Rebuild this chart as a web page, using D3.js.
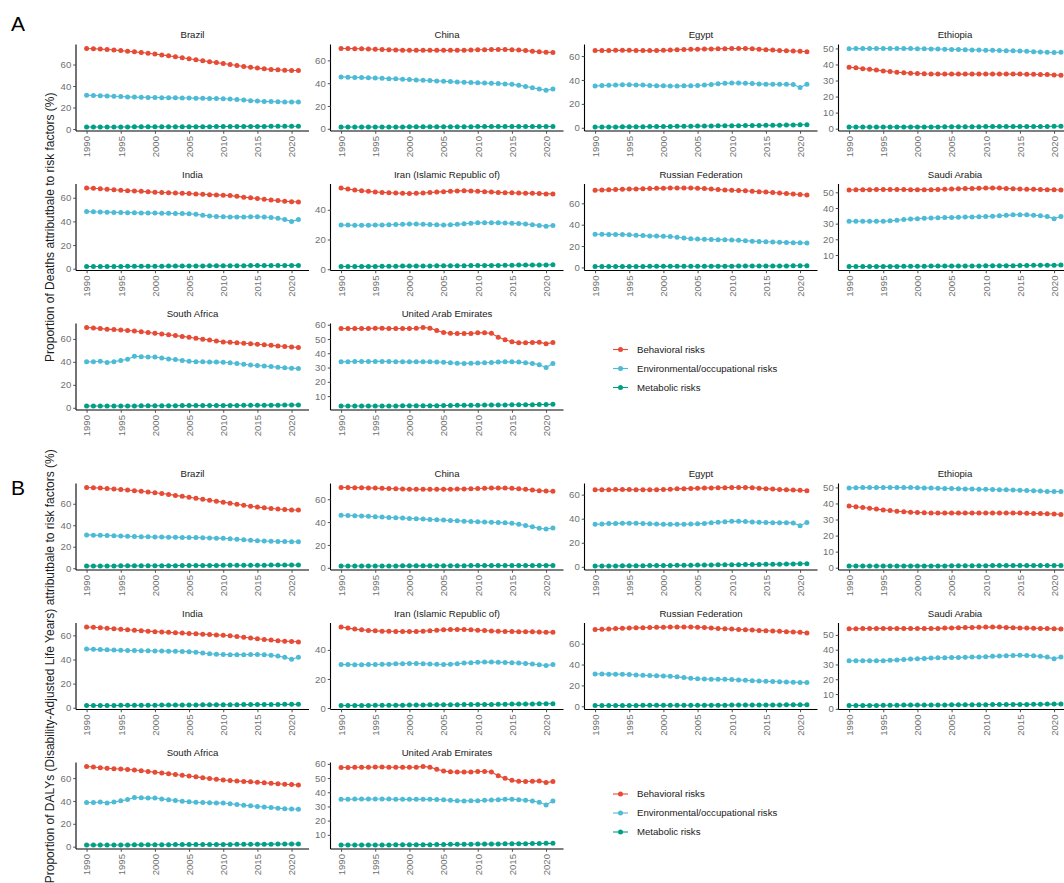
<!DOCTYPE html>
<html>
<head>
<meta charset="utf-8">
<script src="https://cdn.jsdelivr.net/npm/d3@7"></script>
<style>
  html, body { margin: 0; padding: 0; background: #fff; }
  svg { display: block; font-family: "Liberation Sans", Arial, sans-serif; }
</style>
</head>
<body>
<svg id="chart" width="1064" height="883"></svg>
<script>
// ---- data ---------------------------------------------------------------
const years = [1990,1991,1992,1993,1994,1995,1996,1997,1998,1999,2000,2001,2002,2003,2004,2005,
               2006,2007,2008,2009,2010,2011,2012,2013,2014,2015,2016,2017,2018,2019,2020,2021];
const yearTicks = [1990, 1995, 2000, 2005, 2010, 2015, 2020];

const countries = ["Brazil", "China", "Egypt", "Ethiopia", "India", "Iran (Islamic Republic of)",
                   "Russian Federation", "Saudi Arabia", "South Africa", "United Arab Emirates"];

// y-axis break spacing for each country panel
const yTickSteps = [20, 20, 20, 10, 20, 20, 20, 10, 20, 10];

const riskNames = ["Behavioral risks", "Environmental/occupational risks", "Metabolic risks"];
const riskColors = ["#E64B35", "#4DBBD5", "#00A087"];

// Deaths (%), one row per country in the order of `countries`
const deathsBehavioral = [
  [75.0,74.7,74.4,74.0,73.5,73.0,72.4,71.8,71.2,70.5,69.8,69.0,68.1,67.2,66.3,65.4,64.5,63.6,62.7,61.8,60.9,60.0,59.1,58.2,57.4,56.7,56.0,55.5,55.1,54.7,54.4,54.4],
  [70.5,70.4,70.3,70.2,70.0,69.8,69.6,69.4,69.2,69.0,68.9,68.8,68.8,68.8,68.8,68.8,68.8,68.9,69.0,69.1,69.3,69.4,69.5,69.6,69.6,69.4,69.1,68.6,68.1,67.5,67.2,67.0],
  [64.6,64.7,64.7,64.8,64.8,64.8,64.7,64.6,64.6,64.6,64.8,65.0,65.3,65.5,65.7,65.8,65.9,66.0,66.1,66.2,66.3,66.4,66.3,66.1,65.8,65.4,65.0,64.7,64.4,64.2,64.0,63.6],
  [38.3,37.9,37.4,37.0,36.5,36.0,35.6,35.2,34.9,34.6,34.4,34.2,34.1,34.0,34.0,34.0,34.0,34.0,34.0,34.1,34.1,34.1,34.1,34.1,34.0,34.0,33.9,33.9,33.8,33.7,33.5,33.3],
  [68.3,68.0,67.6,67.2,66.8,66.4,66.0,65.7,65.4,65.0,64.7,64.4,64.2,64.0,63.8,63.5,63.2,62.9,62.6,62.4,62.2,61.8,61.2,60.5,59.9,59.3,58.7,58.1,57.6,57.1,56.7,56.4],
  [54.7,53.9,53.3,52.8,52.4,52.0,51.7,51.5,51.3,51.1,51.0,51.1,51.3,51.6,51.9,52.2,52.5,52.7,52.8,52.7,52.5,52.2,51.9,51.7,51.5,51.4,51.3,51.2,51.1,51.0,50.7,50.7],
  [72.3,72.4,72.6,72.9,73.2,73.4,73.5,73.6,73.8,74.0,74.2,74.3,74.4,74.4,74.3,74.2,73.8,73.3,72.9,72.5,72.2,72.0,71.7,71.3,70.9,70.5,70.1,69.6,69.1,68.7,68.3,67.8],
  [51.5,51.6,51.7,51.7,51.8,51.8,51.8,51.8,51.8,51.7,51.7,51.7,51.7,51.8,52.0,52.1,52.3,52.4,52.5,52.6,52.7,52.8,52.7,52.5,52.3,52.1,52.0,51.9,51.8,51.7,51.6,51.5],
  [70.0,69.6,69.0,68.5,68.1,67.7,67.4,66.9,66.3,65.6,64.9,64.3,63.6,62.9,62.2,61.4,60.6,59.8,59.0,58.2,57.4,57.0,56.6,56.2,55.8,55.4,54.9,54.4,53.9,53.4,53.0,52.6],
  [57.4,57.3,57.4,57.4,57.4,57.6,57.6,57.4,57.4,57.4,57.4,57.5,58.1,57.6,56.0,54.6,54.0,53.9,53.8,53.9,54.3,54.3,54.0,51.2,49.4,48.0,47.3,47.4,47.6,47.8,46.6,47.5]
];
const deathsEnvironmental = [
  [31.5,31.2,31.0,30.8,30.5,30.2,29.9,29.7,29.5,29.4,29.3,29.2,29.1,29.0,28.9,28.8,28.7,28.6,28.5,28.4,28.2,27.9,27.5,27.0,26.4,26.0,25.7,25.5,25.3,25.2,25.1,25.1],
  [45.5,45.3,45.1,44.9,44.7,44.5,44.3,44.0,43.8,43.5,43.2,42.9,42.6,42.3,42.0,41.7,41.4,41.1,40.8,40.5,40.3,40.1,39.9,39.7,39.4,39.0,38.3,37.2,36.0,34.8,33.8,34.8],
  [35.0,35.3,35.6,35.8,36.0,36.0,35.9,35.7,35.4,35.2,35.1,35.0,35.0,35.1,35.2,35.4,35.8,36.3,36.8,37.2,37.5,37.5,37.3,37.0,36.7,36.5,36.4,36.4,36.4,36.2,33.8,36.5],
  [49.8,49.9,49.9,49.9,50.0,50.0,50.0,50.0,49.9,49.9,49.8,49.8,49.7,49.6,49.5,49.4,49.3,49.2,49.1,49.0,48.9,48.8,48.7,48.6,48.5,48.4,48.2,48.0,47.8,47.6,47.5,47.6],
  [48.3,48.1,47.9,47.8,47.6,47.5,47.4,47.3,47.2,47.1,47.0,46.9,46.8,46.7,46.6,46.4,46.0,45.3,44.6,44.2,43.9,43.8,43.8,43.8,43.9,43.9,43.7,43.3,42.6,41.5,40.0,41.5],
  [29.8,29.7,29.6,29.6,29.6,29.7,29.8,29.9,30.1,30.3,30.4,30.4,30.3,30.1,29.9,29.8,29.9,30.2,30.6,30.9,31.2,31.3,31.3,31.2,31.1,30.9,30.7,30.4,30.0,29.5,28.9,29.5],
  [31.1,31.0,30.9,30.9,30.8,30.5,30.1,29.8,29.5,29.3,29.2,28.9,28.3,27.6,26.9,26.5,26.3,26.1,26.0,25.9,25.7,25.4,25.0,24.6,24.3,24.0,23.8,23.6,23.4,23.2,23.0,22.8],
  [31.5,31.5,31.5,31.5,31.5,31.6,31.8,32.2,32.6,33.0,33.2,33.4,33.6,33.8,33.9,34.0,34.1,34.2,34.3,34.4,34.6,34.8,35.0,35.3,35.6,35.7,35.6,35.4,35.0,34.5,33.2,34.6],
  [40.0,40.1,40.5,39.4,40.2,41.2,42.3,44.9,44.5,44.2,44.3,43.4,42.6,42.0,41.3,40.6,40.2,40.0,39.9,39.8,39.7,39.2,38.6,37.9,37.3,36.9,36.4,35.9,35.3,34.8,34.5,34.3],
  [34.0,34.1,34.2,34.2,34.2,34.3,34.3,34.2,34.1,34.0,34.0,34.0,34.0,34.0,33.9,33.7,33.3,33.0,32.9,33.0,33.1,33.3,33.5,33.8,34.0,34.0,33.8,33.4,32.9,32.0,30.1,32.8]
];
const deathsMetabolic = [
  [1.8,1.8,1.8,1.9,1.9,1.9,1.9,2.0,2.0,2.0,2.0,2.1,2.1,2.1,2.1,2.2,2.2,2.2,2.2,2.3,2.3,2.3,2.3,2.4,2.4,2.4,2.4,2.5,2.5,2.5,2.6,2.6],
  [1.5,1.5,1.5,1.5,1.5,1.6,1.6,1.6,1.6,1.6,1.7,1.7,1.7,1.7,1.7,1.8,1.8,1.8,1.8,1.8,1.9,1.9,1.9,1.9,1.9,2.0,2.0,2.0,2.0,2.0,2.0,2.0],
  [0.6,0.6,0.7,0.7,0.8,0.8,0.9,0.9,1.0,1.0,1.1,1.1,1.2,1.3,1.3,1.4,1.5,1.5,1.6,1.7,1.7,1.8,1.9,1.9,2.0,2.1,2.1,2.2,2.3,2.4,2.5,2.6],
  [1.0,1.0,1.0,1.0,1.0,1.0,1.0,1.1,1.1,1.1,1.1,1.1,1.1,1.1,1.2,1.2,1.2,1.2,1.2,1.2,1.3,1.3,1.3,1.3,1.3,1.3,1.4,1.4,1.4,1.4,1.5,1.5],
  [1.8,1.8,1.8,1.9,1.9,1.9,2.0,2.0,2.0,2.1,2.1,2.1,2.2,2.2,2.2,2.3,2.3,2.3,2.4,2.4,2.4,2.5,2.5,2.5,2.6,2.6,2.6,2.7,2.7,2.7,2.8,2.8],
  [1.8,1.8,1.8,1.9,1.9,1.9,2.0,2.0,2.0,2.1,2.1,2.2,2.2,2.2,2.3,2.3,2.4,2.4,2.4,2.5,2.5,2.6,2.6,2.6,2.7,2.7,2.8,2.8,2.8,2.9,2.9,3.0],
  [0.8,0.8,0.8,0.8,0.9,0.9,0.9,0.9,1.0,1.0,1.0,1.0,1.0,1.1,1.1,1.1,1.1,1.2,1.2,1.2,1.2,1.3,1.3,1.3,1.3,1.4,1.4,1.4,1.4,1.5,1.5,1.5],
  [2.6,2.6,2.6,2.6,2.7,2.7,2.7,2.7,2.8,2.8,2.8,2.8,2.9,2.9,2.9,2.9,3.0,3.0,3.0,3.0,3.1,3.1,3.1,3.2,3.2,3.3,3.3,3.4,3.4,3.5,3.5,3.6],
  [1.5,1.5,1.5,1.5,1.6,1.6,1.6,1.6,1.7,1.7,1.7,1.8,1.8,1.8,1.9,1.9,1.9,2.0,2.0,2.0,2.1,2.1,2.1,2.2,2.2,2.2,2.3,2.3,2.3,2.4,2.4,2.5],
  [3.0,3.0,3.0,3.0,3.0,3.1,3.1,3.1,3.1,3.2,3.2,3.2,3.2,3.3,3.3,3.4,3.4,3.5,3.5,3.6,3.6,3.7,3.7,3.8,3.8,3.9,3.9,4.0,4.0,4.1,4.1,4.2]
];

// DALYs (%), one row per country in the order of `countries`
const dalysBehavioral = [
  [75.2,74.9,74.6,74.2,73.8,73.3,72.8,72.2,71.6,71.0,70.3,69.5,68.7,67.8,66.9,66.0,65.1,64.2,63.3,62.4,61.5,60.5,59.5,58.6,57.7,56.9,56.2,55.6,55.1,54.7,54.3,54.1],
  [70.3,70.2,70.1,70.0,69.9,69.7,69.5,69.3,69.1,68.9,68.8,68.7,68.7,68.7,68.7,68.8,68.8,68.9,69.0,69.2,69.4,69.6,69.7,69.8,69.7,69.5,69.1,68.6,68.1,67.5,67.1,66.9],
  [64.0,64.1,64.1,64.2,64.2,64.2,64.1,64.1,64.1,64.1,64.3,64.5,64.8,65.0,65.2,65.4,65.5,65.6,65.7,65.8,65.9,66.0,65.9,65.7,65.4,65.0,64.6,64.3,64.0,63.8,63.6,63.3],
  [38.4,38.0,37.5,37.0,36.5,36.0,35.6,35.2,34.9,34.6,34.4,34.2,34.1,34.0,34.0,34.0,34.0,34.0,34.0,34.1,34.1,34.1,34.1,34.1,34.0,34.0,33.9,33.8,33.7,33.6,33.4,33.2],
  [67.0,66.7,66.3,65.9,65.5,65.1,64.7,64.3,63.9,63.5,63.1,62.8,62.5,62.2,61.9,61.6,61.3,61.0,60.7,60.4,60.1,59.7,59.1,58.4,57.8,57.2,56.6,56.1,55.6,55.2,54.9,54.6],
  [55.8,55.0,54.3,53.8,53.4,53.1,52.9,52.8,52.7,52.6,52.6,52.7,52.9,53.2,53.5,53.8,54.0,54.1,54.1,53.9,53.6,53.3,53.0,52.8,52.7,52.6,52.5,52.5,52.4,52.3,52.1,52.2],
  [73.5,73.7,74.0,74.4,74.8,75.0,75.1,75.2,75.4,75.6,75.8,75.9,76.0,76.0,75.9,75.8,75.4,74.9,74.5,74.2,73.9,73.6,73.3,73.0,72.7,72.4,72.1,71.8,71.5,71.2,70.9,70.3],
  [54.1,54.2,54.3,54.3,54.4,54.4,54.4,54.4,54.3,54.3,54.3,54.3,54.3,54.4,54.6,54.7,54.9,55.0,55.1,55.2,55.3,55.4,55.3,55.1,54.9,54.7,54.6,54.5,54.4,54.3,54.1,54.0],
  [70.2,69.7,69.1,68.6,68.2,67.9,67.6,67.1,66.5,65.8,65.2,64.5,63.9,63.2,62.5,61.8,61.1,60.4,59.7,59.0,58.3,57.9,57.5,57.1,56.7,56.3,55.9,55.4,55.0,54.6,54.3,54.0],
  [57.5,57.5,57.6,57.6,57.6,57.8,57.8,57.6,57.6,57.6,57.6,57.7,58.2,57.7,56.2,55.0,54.4,54.3,54.2,54.3,54.6,54.6,54.3,51.6,49.8,48.4,47.7,47.6,47.8,48.0,46.8,47.6]
];
const dalysEnvironmental = [
  [31.0,30.8,30.6,30.4,30.2,29.9,29.7,29.5,29.3,29.2,29.1,29.0,28.9,28.8,28.7,28.6,28.5,28.4,28.2,28.0,27.8,27.4,27.0,26.5,26.0,25.6,25.3,25.1,24.9,24.8,24.7,24.6],
  [46.0,45.8,45.6,45.3,45.0,44.7,44.4,44.1,43.8,43.5,43.2,42.9,42.6,42.3,42.0,41.7,41.4,41.1,40.8,40.5,40.2,40.0,39.8,39.6,39.3,38.9,38.1,37.0,35.8,34.6,33.9,34.8],
  [35.3,35.6,35.9,36.1,36.3,36.3,36.2,36.0,35.7,35.5,35.4,35.3,35.3,35.4,35.5,35.7,36.1,36.6,37.1,37.5,37.8,37.8,37.6,37.3,37.0,36.8,36.7,36.7,36.7,36.5,34.2,36.8],
  [49.7,49.8,49.9,49.9,50.0,50.0,50.0,50.0,49.9,49.9,49.8,49.7,49.6,49.5,49.4,49.3,49.2,49.1,49.0,48.9,48.8,48.7,48.6,48.5,48.4,48.3,48.1,47.9,47.7,47.5,47.4,47.5],
  [48.6,48.4,48.2,48.0,47.8,47.6,47.5,47.4,47.3,47.2,47.1,47.0,46.9,46.8,46.7,46.5,46.1,45.4,44.8,44.4,44.1,44.0,44.0,44.0,44.1,44.1,43.9,43.5,42.8,41.8,40.2,41.8],
  [30.0,29.9,29.8,29.8,29.9,30.0,30.1,30.2,30.4,30.5,30.6,30.6,30.5,30.3,30.1,30.0,30.2,30.5,30.9,31.2,31.5,31.6,31.6,31.5,31.4,31.2,31.0,30.7,30.3,29.8,29.2,29.9],
  [31.0,30.9,30.8,30.8,30.7,30.4,30.0,29.7,29.4,29.2,29.1,28.8,28.2,27.5,26.8,26.4,26.2,26.0,25.9,25.8,25.6,25.3,24.9,24.5,24.2,23.9,23.7,23.5,23.3,23.1,22.9,22.7],
  [32.5,32.5,32.5,32.5,32.5,32.6,32.8,33.1,33.4,33.7,33.9,34.1,34.3,34.5,34.6,34.7,34.8,34.9,35.0,35.1,35.3,35.5,35.7,35.9,36.1,36.2,36.1,35.9,35.5,35.0,33.8,35.0],
  [38.6,38.7,39.1,38.2,39.0,40.1,41.3,43.0,42.7,42.5,42.6,41.8,41.1,40.5,39.8,39.2,38.8,38.6,38.4,38.3,38.2,37.6,37.0,36.3,35.7,35.2,34.7,34.2,33.7,33.2,32.9,32.7],
  [35.0,35.1,35.2,35.2,35.2,35.3,35.3,35.2,35.1,35.0,35.0,35.0,35.0,35.0,34.9,34.7,34.3,34.0,33.9,34.0,34.1,34.3,34.5,34.8,35.0,35.0,34.8,34.4,33.9,33.0,31.1,33.8]
];
const dalysMetabolic = [
  [2.0,2.0,2.1,2.1,2.1,2.2,2.2,2.2,2.3,2.3,2.3,2.4,2.4,2.4,2.5,2.5,2.5,2.6,2.6,2.6,2.7,2.7,2.7,2.8,2.8,2.8,2.8,2.9,2.9,2.9,2.9,3.0],
  [1.5,1.5,1.5,1.5,1.6,1.6,1.6,1.6,1.6,1.7,1.7,1.7,1.7,1.7,1.8,1.8,1.8,1.8,1.8,1.9,1.9,1.9,1.9,1.9,2.0,2.0,2.0,2.0,2.0,2.0,2.1,2.1],
  [0.6,0.6,0.7,0.7,0.8,0.8,0.9,0.9,1.0,1.0,1.1,1.1,1.2,1.3,1.3,1.4,1.5,1.5,1.6,1.7,1.7,1.8,1.9,1.9,2.0,2.1,2.1,2.2,2.3,2.4,2.5,2.6],
  [1.0,1.0,1.0,1.0,1.0,1.0,1.0,1.0,1.1,1.1,1.1,1.1,1.1,1.1,1.1,1.2,1.2,1.2,1.2,1.2,1.2,1.3,1.3,1.3,1.3,1.3,1.3,1.3,1.4,1.4,1.4,1.4],
  [1.8,1.8,1.9,1.9,1.9,2.0,2.0,2.0,2.1,2.1,2.1,2.2,2.2,2.2,2.3,2.3,2.3,2.4,2.4,2.4,2.5,2.5,2.5,2.6,2.6,2.6,2.7,2.7,2.7,2.8,2.8,2.9],
  [1.7,1.7,1.8,1.8,1.8,1.9,1.9,1.9,2.0,2.0,2.1,2.1,2.1,2.2,2.2,2.3,2.3,2.3,2.4,2.4,2.5,2.5,2.5,2.6,2.6,2.7,2.7,2.8,2.8,2.9,2.9,3.0],
  [0.7,0.7,0.7,0.8,0.8,0.8,0.8,0.9,0.9,0.9,0.9,1.0,1.0,1.0,1.0,1.0,1.1,1.1,1.1,1.1,1.2,1.2,1.2,1.2,1.3,1.3,1.3,1.3,1.4,1.4,1.4,1.4],
  [2.2,2.2,2.3,2.3,2.3,2.4,2.4,2.4,2.5,2.5,2.5,2.5,2.6,2.6,2.6,2.7,2.7,2.7,2.8,2.8,2.8,2.9,2.9,2.9,3.0,3.0,3.0,3.1,3.1,3.2,3.2,3.3],
  [1.4,1.4,1.4,1.5,1.5,1.5,1.5,1.6,1.6,1.6,1.7,1.7,1.7,1.8,1.8,1.8,1.9,1.9,1.9,2.0,2.0,2.0,2.1,2.1,2.1,2.2,2.2,2.2,2.3,2.3,2.3,2.4],
  [2.8,2.8,2.8,2.8,2.9,2.9,2.9,2.9,3.0,3.0,3.0,3.1,3.1,3.1,3.2,3.2,3.3,3.3,3.4,3.4,3.5,3.5,3.6,3.6,3.7,3.7,3.8,3.8,3.9,3.9,4.0,4.0]
];

// ---- layout -------------------------------------------------------------
const svg = d3.select("#chart");
const colLeft = [76, 330.5, 584.5, 838.5];
const panelW = 233, panelH = 86.5;
const rowTop = [44.5, 184, 323.5];
const sectionOffset = 439;

const textFont = 9.6;
const tickColor = "#4d4d4d";
const labelColor = "#707070";

const sections = [
  { tag: "A", tagY: 31, offset: 0,
    series: [deathsBehavioral, deathsEnvironmental, deathsMetabolic],
    title: "Proportion of Deaths attributbale to risk factors (%)",
    legendY: [349.5, 368.5, 387.5] },
  { tag: "B", tagY: 495, offset: sectionOffset,
    series: [dalysBehavioral, dalysEnvironmental, dalysMetabolic],
    title: "Proportion of DALYs (Disability-Adjusted Life Years) attributbale to risk factors (%)",
    legendY: [794, 813, 832] }
];

sections.forEach(sec => {
  // section tag
  svg.append("text")
    .attr("x", 11).attr("y", sec.tagY)
    .attr("font-size", 21).attr("fill", "#000")
    .text(sec.tag);

  // shared y-axis title
  const top = rowTop[0] + sec.offset;
  const bottom = rowTop[2] + panelH + sec.offset;
  svg.append("text")
    .attr("transform", `translate(54,${(top + bottom) / 2}) rotate(-90)`)
    .attr("text-anchor", "middle")
    .attr("font-size", 12).attr("fill", "#1a1a1a")
    .text(sec.title);

  countries.forEach((country, ci) => {
    const row = Math.floor(ci / 4), col = ci % 4;
    const left = colLeft[col];
    const pTop = rowTop[row] + sec.offset;
    const pBottom = pTop + panelH;

    const vals = sec.series.map(s => s[ci]);
    const all = vals.flat();
    const lo = d3.min(all), hi = d3.max(all);
    const padY = (hi - lo) * 0.05;
    const y = d3.scaleLinear().domain([lo - padY, hi + padY]).range([pBottom, pTop]);
    const padX = (years[years.length - 1] - years[0]) * 0.05;
    const x = d3.scaleLinear().domain([years[0] - padX, years[years.length - 1] + padX])
      .range([left, left + panelW]);

    const g = svg.append("g");

    // facet strip label
    g.append("text")
      .attr("x", left + panelW / 2).attr("y", pTop - 6.5)
      .attr("text-anchor", "middle")
      .attr("font-size", textFont).attr("fill", "#1a1a1a")
      .text(country);

    // y axis
    const step = yTickSteps[ci];
    const d = y.domain();
    const yTicks = d3.range(Math.ceil(d[0] / step) * step, d[1] + 1e-9, step);
    const yAxis = d3.axisLeft(y).tickValues(yTicks).tickSize(2.75).tickPadding(2).tickFormat(d3.format("d"));
    const ya = g.append("g").attr("transform", `translate(${left},0)`).call(yAxis);
    ya.select(".domain").attr("d", `M0,${pTop}V${pBottom}`).attr("stroke", "#000").attr("stroke-width", 1.1);
    ya.selectAll(".tick line").attr("stroke", tickColor);
    ya.selectAll(".tick text").attr("font-size", textFont).attr("fill", labelColor)
      .attr("font-family", "Liberation Sans, Arial, sans-serif");

    // x axis
    const xAxis = d3.axisBottom(x).tickValues(yearTicks).tickSize(2.75).tickPadding(2).tickFormat(d3.format("d"));
    const xa = g.append("g").attr("transform", `translate(0,${pBottom})`).call(xAxis);
    xa.select(".domain").attr("d", `M${left},0H${left + panelW}`).attr("stroke", "#000").attr("stroke-width", 1.1);
    xa.selectAll(".tick line").attr("stroke", tickColor);
    xa.selectAll(".tick text")
      .attr("font-size", textFont).attr("fill", labelColor)
      .attr("font-family", "Liberation Sans, Arial, sans-serif")
      .attr("text-anchor", "end")
      .attr("transform", "translate(0,5) rotate(-90)")
      .attr("x", 0).attr("y", 0).attr("dy", "0.35em");

    // series: lines then points
    const line = d3.line().x((v, i) => x(years[i])).y(v => y(v));
    vals.forEach((series, si) => {
      g.append("path").datum(series)
        .attr("d", line).attr("fill", "none")
        .attr("stroke", riskColors[si]).attr("stroke-width", 1.1);
      g.selectAll(null).data(series).enter().append("circle")
        .attr("cx", (v, i) => x(years[i])).attr("cy", v => y(v))
        .attr("r", 2.5).attr("fill", riskColors[si]);
    });
  });

  // legend
  const lg = svg.append("g");
  riskNames.forEach((name, i) => {
    const ly = sec.legendY[i];
    lg.append("line").attr("x1", 613).attr("x2", 628).attr("y1", ly).attr("y2", ly)
      .attr("stroke", riskColors[i]).attr("stroke-width", 1.1);
    lg.append("circle").attr("cx", 620.5).attr("cy", ly).attr("r", 2.5).attr("fill", riskColors[i]);
    lg.append("text").attr("x", 637).attr("y", ly).attr("dy", "0.35em")
      .attr("font-size", textFont).attr("fill", "#1a1a1a").text(name);
  });
});
</script>
</body>
</html>
